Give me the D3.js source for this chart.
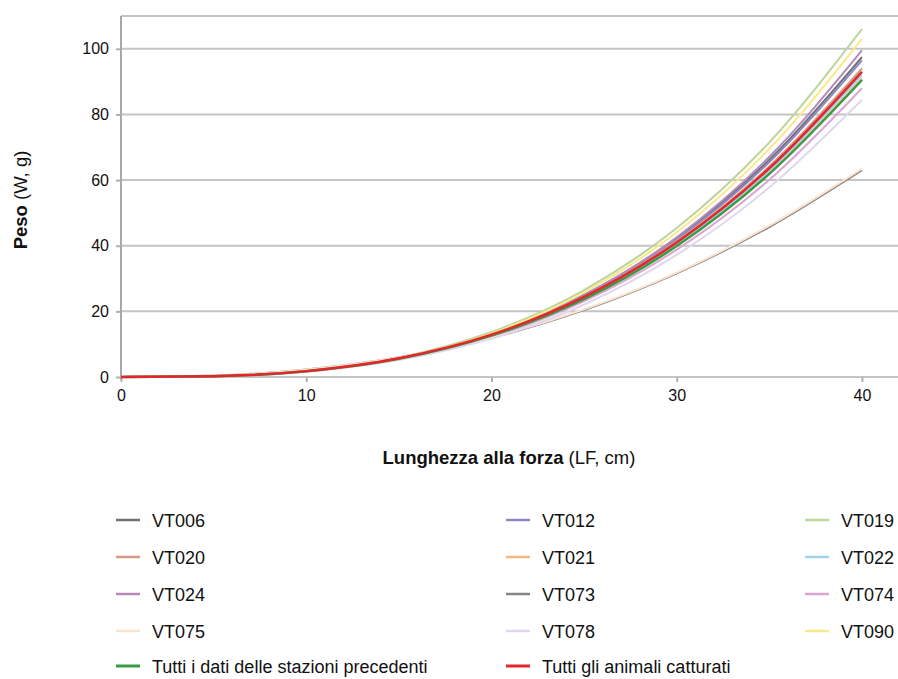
<!DOCTYPE html>
<html><head><meta charset="utf-8">
<script src="https://cdn.jsdelivr.net/npm/d3@7"></script>
<style>body{margin:0;background:#fff;}svg{display:block;font-family:"Liberation Sans",Arial,sans-serif;}</style>
</head><body>
<svg id="c" width="898" height="679"></svg>
<script>
const lengths = [0, 5, 10, 15, 20, 25, 30, 35, 40];
const seriesNames = ["VT006","VT012","VT019","VT020","VT021","VT022","VT024","VT073","VT074","VT075","VT078","VT090","Tutti i dati delle stazioni precedenti","Tutti gli animali catturati"];
const vt006 = [0, 0.23, 1.76, 5.67, 13.1, 25.0, 42.3, 66.2, 97.5];
const vt012 = [0, 0.23, 1.74, 5.62, 12.9, 24.7, 41.9, 65.5, 96.5];
const vt019 = [0, 0.23, 1.78, 5.88, 13.7, 26.5, 45.4, 71.5, 106];
const vt020 = [0, 0.25, 1.81, 5.75, 13.1, 24.6, 41.4, 64.2, 94];
const vt021 = [0, 0.24, 1.76, 5.57, 12.6, 23.8, 40.1, 62.2, 91];
const vt022 = [0, 0.25, 1.78, 5.63, 12.8, 24.1, 40.5, 62.9, 92];
const vt024 = [0, 0.22, 1.67, 5.52, 12.9, 24.9, 42.6, 67.1, 99.5];
const vt073 = [0, 0.43, 2.26, 5.99, 11.9, 20.4, 31.6, 45.7, 63];
const vt074 = [0, 0.24, 1.70, 5.39, 12.2, 23.1, 38.8, 60.1, 88];
const vt075 = [0, 0.43, 2.28, 6.03, 12.0, 20.6, 31.8, 46.1, 63.5];
const vt078 = [0, 0.23, 1.63, 5.17, 11.7, 22.1, 37.2, 57.8, 84.5];
const vt090 = [0, 0.22, 1.73, 5.72, 13.3, 25.8, 44.1, 69.5, 103];
const precedenti = [0, 0.24, 1.75, 5.54, 12.6, 23.7, 39.9, 61.9, 90.5];
const tutti = [0, 0.25, 1.79, 5.69, 12.9, 24.4, 41.0, 63.6, 93];
const seriesValues = [vt006, vt012, vt019, vt020, vt021, vt022, vt024, vt073, vt074, vt075, vt078, vt090, precedenti, tutti];
const colors = ["#6e6e78","#8c88c0","#bcd59c","#d49b80","#f9b680","#9fd3ea","#b58ab9","#858585","#dba6d2","#fde3cc","#e2d6ee","#fbe88a","#3a9a45","#e3262b"];
const widths = [2,2,2,2,2,2,2,2,2,2,2,2,2.5,2.5];
const xTicks = [0, 10, 20, 30, 40];
const yTicks = [0, 20, 40, 60, 80, 100];

const svg = d3.select("#c");
const x = d3.scaleLinear().domain([0, 42]).range([121, 899]);
const y = d3.scaleLinear().domain([0, 110]).range([377, 16]);

// grid
svg.append("g").selectAll("line").data(yTicks.concat([110])).join("line")
  .attr("x1", 121).attr("x2", 898).attr("y1", d => y(d)).attr("y2", d => y(d))
  .attr("stroke", "#c4c4c4").attr("stroke-width", 2);

// y axis
const ya = svg.append("g").attr("transform", "translate(121,0)")
  .call(d3.axisLeft(y).tickValues(yTicks).tickSize(5).tickPadding(7).tickFormat(d3.format("d")));
ya.select(".domain").remove();
ya.selectAll(".tick line").attr("stroke", "#b0b0b0").attr("stroke-width", 2);
ya.selectAll("text").attr("font-size", 16).attr("fill", "#111").attr("font-family", "Liberation Sans, Arial, sans-serif");
svg.append("line").attr("x1", 121).attr("x2", 121).attr("y1", y(110)).attr("y2", 380)
  .attr("stroke", "#a8a8a8").attr("stroke-width", 2);

// x axis
const xa = svg.append("g").attr("transform", "translate(0,377)")
  .call(d3.axisBottom(x).tickValues(xTicks).tickSize(5).tickPadding(8).tickFormat(d3.format("d")));
xa.select(".domain").remove();
xa.selectAll(".tick line").attr("stroke", "#b0b0b0").attr("stroke-width", 2);
xa.selectAll("text").attr("font-size", 16).attr("fill", "#111").attr("font-family", "Liberation Sans, Arial, sans-serif");

// lines
const line = d3.line().x((d, i) => x(lengths[i])).y(d => y(d)).curve(d3.curveMonotoneX);
svg.append("g").selectAll("path").data(seriesValues).join("path")
  .attr("d", d => line(d)).attr("fill", "none")
  .attr("stroke", (d, i) => colors[i]).attr("stroke-width", (d, i) => widths[i])
  .attr("stroke-linejoin", "round");

// axis titles
const xt = svg.append("text").attr("x", 509).attr("y", 464).attr("text-anchor", "middle").attr("font-size", 18.5).attr("fill", "#111");
xt.append("tspan").attr("font-weight", "bold").text("Lunghezza alla forza");
xt.append("tspan").text(" (LF, cm)");
const yt = svg.append("text").attr("transform", "translate(27,200) rotate(-90)").attr("text-anchor", "middle").attr("font-size", 18.5).attr("fill", "#111");
yt.append("tspan").attr("font-weight", "bold").text("Peso");
yt.append("tspan").text(" (W, g)");

// legend
const colX = [116, 506, 805];
const rowY = [520, 557, 594, 631, 666];
const order = [[0,0,0],[1,1,0],[2,2,0],[3,0,1],[4,1,1],[5,2,1],[6,0,2],[7,1,2],[8,2,2],[9,0,3],[10,1,3],[11,2,3],[12,0,4],[13,1,4]];
const lg = svg.append("g").selectAll("g").data(order).join("g")
  .attr("transform", d => `translate(${colX[d[1]]},${rowY[d[2]]})`);
lg.append("line").attr("x1", 0).attr("x2", 24).attr("y1", 0).attr("y2", 0)
  .attr("stroke", d => colors[d[0]]).attr("stroke-width", d => d[0] >= 12 ? 3 : 2.5);
lg.append("text").attr("x", 36).attr("y", 6.5).attr("font-size", 18).attr("fill", "#111")
  .text(d => seriesNames[d[0]]);
</script>
</body></html>
